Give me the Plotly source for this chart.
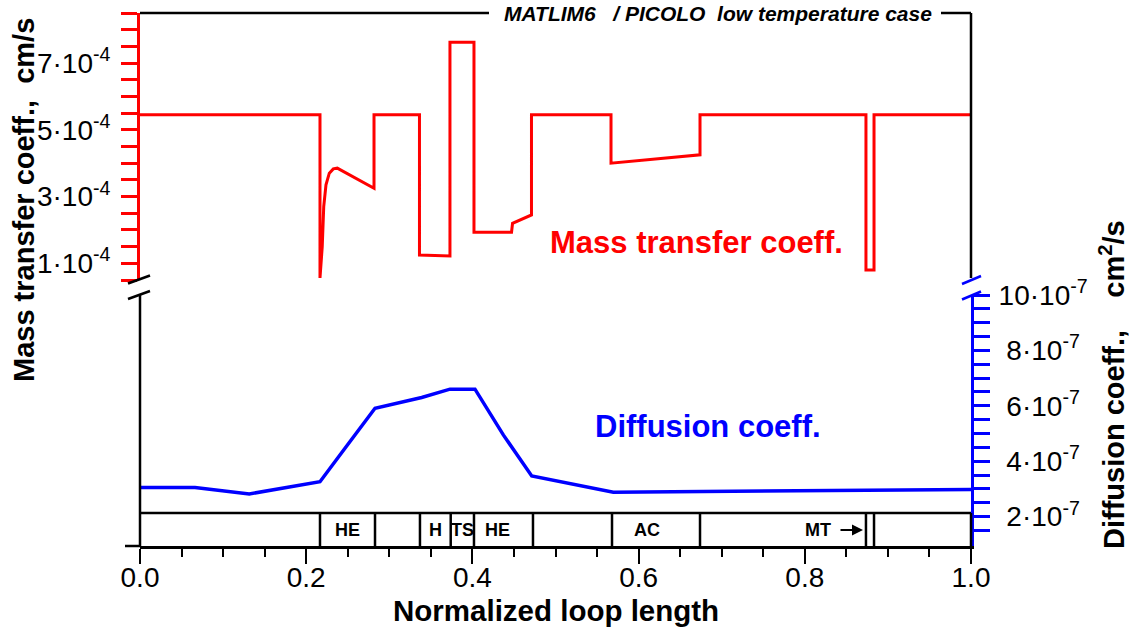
import plotly.graph_objects as go

# ---------------- data ----------------
# Mass transfer coefficient (units of 1e-4 cm/s) along the normalized loop length
mt_x = [0.0, 0.2166, 0.2166, 0.2193, 0.2211, 0.2238, 0.2278, 0.2326, 0.2374, 0.2816,
        0.2816, 0.3363, 0.3363, 0.3730, 0.3730, 0.4019, 0.4019, 0.4471, 0.4483, 0.4711,
        0.4711, 0.5668, 0.5668, 0.6739, 0.6739, 0.8736, 0.8736, 0.8833, 0.8833, 1.0]
mt_val = [5.45, 5.45, 0.56, 1.5, 2.7, 3.35, 3.7, 3.83, 3.85, 3.25,
          5.45, 5.45, 1.25, 1.22, 7.62, 7.62, 1.93, 1.93, 2.2, 2.45,
          5.45, 5.45, 4.0, 4.25, 5.45, 5.45, 0.8, 0.8, 5.45, 5.45]

# Diffusion coefficient (units of 1e-7 cm^2/s)
dc_x = [0.0, 0.0662, 0.1315, 0.2166, 0.2487, 0.2828, 0.339, 0.373, 0.4031, 0.4372,
        0.4714, 0.5696, 0.7136, 1.0]
dc_val = [3.05, 3.05, 2.82, 3.26, 4.55, 5.91, 6.30, 6.6, 6.6, 4.95,
          3.47, 2.88, 2.92, 2.98]

# loop component strip
seg_bounds = [0.2166, 0.2828, 0.3369, 0.3739, 0.4019, 0.4729, 0.568, 0.6739, 0.8736, 0.8833]
seg_labels = ["HE", "H", "TS", "HE", "AC", "MT"]
seg_label_x = [0.2495, 0.3555, 0.3877, 0.4305, 0.6100, 0.8160]

x_ticks = [0.0, 0.2, 0.4, 0.6, 0.8, 1.0]
x_ticktext = ["0.0", "0.2", "0.4", "0.6", "0.8", "1.0"]
mt_ticks = [1, 3, 5, 7]
mt_minor = [0.5, 1.5, 2, 2.5, 3.5, 4, 4.5, 5.5, 6, 6.5, 7.5, 8, 8.5]
dc_ticks = [2, 4, 6, 8, 10]
dc_minor = [1.5, 2.5, 3, 3.5, 4.5, 5, 5.5, 6.5, 7, 7.5, 8.5, 9, 9.5]

mt_range = [0.5, 8.5]
dc_range = [0.94, 10.0]

FONT = "Liberation Sans, Arial, sans-serif"
RED = "#ff0000"
BLUE = "#0000ff"

# plot area geometry (pixels)
L, R, T, B = 140, 971, 13, 546
W, H = 1129, 630


def px(xp):
    return (xp - L) / (R - L)


def py(yp):
    return (B - yp) / (B - T)


fig = go.Figure()
fig.add_trace(go.Scatter(x=mt_x, y=[v * 1e-4 for v in mt_val], mode="lines",
                         line=dict(color=RED, width=3), yaxis="y", showlegend=False))
fig.add_trace(go.Scatter(x=dc_x, y=[v * 1e-7 for v in dc_val], mode="lines",
                         line=dict(color=BLUE, width=3.5), yaxis="y2", showlegend=False))

tickfont = dict(family=FONT, size=28, color="black")

fig.update_layout(
    width=W, height=H,
    margin=dict(l=L, r=W - R, t=T, b=H - B, autoexpand=False),
    plot_bgcolor="white", paper_bgcolor="white",
    font=dict(family=FONT, color="black"),
    showlegend=False,
    xaxis=dict(range=[0, 1], anchor="y2", automargin=False, showline=True, linecolor="black",
               linewidth=2.5, showgrid=False, zeroline=False, ticks="outside", ticklen=15,
               tickwidth=2, tickcolor="black", tickvals=x_ticks, ticktext=x_ticktext,
               tickfont=tickfont, ticklabelstandoff=-10,
               minor=dict(tickmode="linear", tick0=0, dtick=0.05, ticks="outside",
                          ticklen=8, tickwidth=2, tickcolor="black", showgrid=False)),
    yaxis=dict(domain=[py(280), 1.0], range=[v * 1e-4 for v in mt_range], anchor="x",
               automargin=False, side="left", showline=True, linecolor=RED, linewidth=3,
               showgrid=False, zeroline=False, ticks="outside", ticklen=16, tickwidth=2.5,
               tickcolor=RED, tickvals=[v * 1e-4 for v in mt_ticks],
               ticktext=[f"{v}·10<sup>-4</sup>" for v in mt_ticks],
               tickfont=tickfont, ticklabelstandoff=5,
               minor=dict(tickmode="array", tickvals=[v * 1e-4 for v in mt_minor],
                          ticks="outside", ticklen=16, tickwidth=2.5, tickcolor=RED,
                          showgrid=False)),
    yaxis2=dict(domain=[0.0, py(295)], range=[v * 1e-7 for v in dc_range], anchor="x",
                automargin=False, side="right", showline=True, linecolor=BLUE, linewidth=3,
                showgrid=False, zeroline=False, ticks="outside", ticklen=16, tickwidth=2.5,
                tickcolor=BLUE, tickvals=[v * 1e-7 for v in dc_ticks],
                ticktext=[("" if v >= 10 else "\u00a0") + f"{v}·10<sup>-7</sup>" for v in dc_ticks],
                tickfont=tickfont, ticklabelstandoff=3,
                minor=dict(tickmode="array", tickvals=[v * 1e-7 for v in dc_minor],
                           ticks="outside", ticklen=16, tickwidth=2.5, tickcolor=BLUE,
                           showgrid=False)),
)

shapes = []


def seg(x0, y0, x1, y1, color="black", width=2.5, xref="paper"):
    shapes.append(dict(type="line", xref=xref, yref="paper", x0=x0, y0=y0, x1=x1, y1=y1,
                       line=dict(color=color, width=width)))


# frame pieces
seg(0, 0, 0, py(295))                      # left lower black axis
seg(px(125), 0, 0, 0)                       # small extension at bottom-left
seg(1, py(278), 1, 1)                       # right upper black axis
seg(0, 1, px(489), 1)                       # top line, left of title
seg(px(941), 1, 1, 1)                       # top line, right of title
# break marks
seg(px(128), py(283.5), px(150), py(275.5))
seg(px(128), py(299), px(150), py(291))
seg(px(962), py(284), px(981), py(276), color=BLUE)
seg(px(962), py(299.5), px(981), py(291.5), color=BLUE)
# component strip
seg(0, py(513), 1, py(513))
seg(1, 0, 1, py(513))
for xb in seg_bounds:
    seg(xb, 0, xb, py(513), xref="x")

fig.update_layout(shapes=shapes)

ann = []
for lab, xl in zip(seg_labels, seg_label_x):
    ann.append(dict(x=xl, y=py(530), xref="x", yref="paper", text=lab, showarrow=False,
                    font=dict(family=FONT, size=18, color="black", weight="bold"),
                    xanchor="center", yanchor="middle"))
# arrow after MT
ann.append(dict(x=px(863), y=py(530), xref="paper", yref="paper", ax=-24, ay=0, text="",
                showarrow=True, arrowhead=2, arrowsize=1.1, arrowwidth=2, arrowcolor="black",
                standoff=0))

ann += [
    dict(x=px(718), y=1.0, xref="paper", yref="paper",
         text="<b><i>MATLIM6 \u00a0 / PICOLO \u00a0low temperature case</i></b>",
         showarrow=False, font=dict(family=FONT, size=21, color="black"),
         xanchor="center", yanchor="middle"),
    dict(x=px(696.5), y=py(242.5), xref="paper", yref="paper", text="<b>Mass transfer coeff.</b>",
         showarrow=False, font=dict(family=FONT, size=31, color=RED),
         xanchor="center", yanchor="middle"),
    dict(x=px(708), y=py(426), xref="paper", yref="paper", text="<b>Diffusion coeff.</b>",
         showarrow=False, font=dict(family=FONT, size=31, color=BLUE),
         xanchor="center", yanchor="middle"),
    dict(x=px(24), y=py(200), xref="paper", yref="paper",
         text="<b>Mass transfer coeff., \u00a0cm/s</b>", textangle=-90,
         showarrow=False, font=dict(family=FONT, size=29, color="black"),
         xanchor="center", yanchor="middle"),
    dict(x=px(1112), y=py(385), xref="paper", yref="paper",
         text="<b>Diffusion coeff., \u00a0\u00a0\u00a0cm<sup>2</sup>/s</b>", textangle=-90,
         showarrow=False, font=dict(family=FONT, size=29, color="black"),
         xanchor="center", yanchor="middle"),
    dict(x=0.5, y=py(610), xref="paper", yref="paper", text="<b>Normalized loop length</b>",
         showarrow=False, font=dict(family=FONT, size=29.5, color="black"),
         xanchor="center", yanchor="middle"),
]
fig.update_layout(annotations=ann)

fig.write_html("out.html")
